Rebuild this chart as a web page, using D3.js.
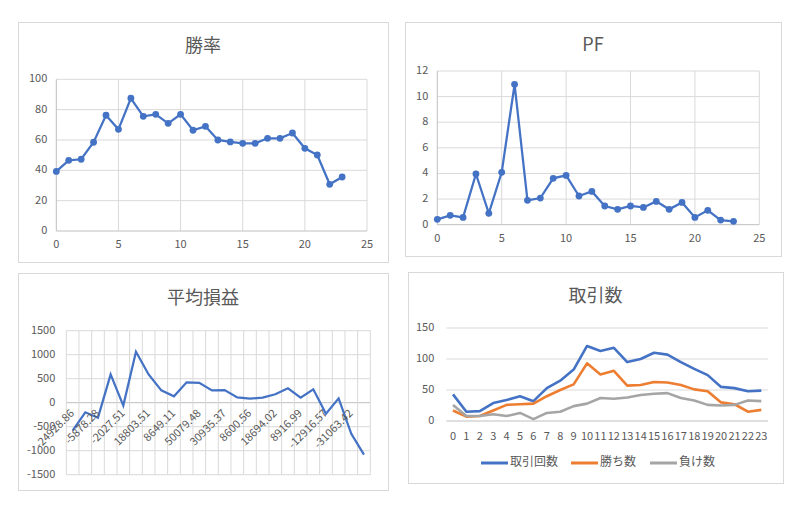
<!DOCTYPE html>
<html>
<head>
<meta charset="utf-8">
<script src="https://cdn.jsdelivr.net/npm/d3@7"></script>
<style>
  body { margin: 0; background: #fff; }
  text { font-family: "Noto Sans CJK JP", "Noto Sans", sans-serif; fill: #595959; }
</style>
</head>
<body>
<div id="chart"></div>
<script>
// 時間帯 0〜23
const hours = d3.range(24);

// 勝率 (%)
const winRate = [39.3, 46.6, 47.3, 58.5, 76.3, 67, 87.5, 75.6, 76.9, 71, 76.9, 66.4,
  69, 60, 58.7, 57.8, 57.8, 61.1, 61.1, 64.6, 54.5, 50.1, 30.8, 35.6];

// PF
const pf = [0.42, 0.73, 0.57, 3.96, 0.89, 4.09, 10.96, 1.9, 2.08, 3.62, 3.85, 2.24,
  2.6, 1.46, 1.2, 1.46, 1.35, 1.82, 1.2, 1.74, 0.57, 1.12, 0.36, 0.26];

// 平均損益
const avgPL = [-580, -200, -312, 590, -60, 1062, 588, 257, 133, 424, 414, 257,
  262, 111, 86, 104, 175, 299, 106, 278, -230, 90, -647, -1083];
// 合計損益 (軸ラベル、1つおきに表示)
const totalPLLabels = ['-24928.86', '', '-5878.28', '', '-2027.51', '', '18803.51', '',
  '8649.11', '', '50079.48', '', '30935.37', '', '8600.56', '', '18694.02', '',
  '8916.99', '', '-12916.57', '', '-31063.42', ''];

// 取引数
const trades = [43, 15, 16, 29, 34, 40, 32, 53, 65, 83, 121, 113, 118, 95, 100, 110,
  107, 95, 84, 74, 55, 53, 48, 49];
const wins = [17, 7, 8, 17, 26, 27, 28, 40, 50, 59, 93, 75, 81, 57, 58, 63, 62, 58,
  51, 48, 30, 27, 15, 18];
const losses = [26, 8, 8, 11, 8, 13, 3, 13, 15, 24, 28, 37, 36, 38, 42, 44, 45, 37,
  33, 26, 25, 26, 33, 32];
const seriesNames = ['取引回数', '勝ち数', '負け数'];
const seriesColors = ['#4472c4', '#ed7d31', '#a5a5a5'];

const GRID = '#d9d9d9';
const AXIS = '#bfbfbf';

const svg = d3.select('#chart').append('svg')
  .attr('width', 797).attr('height', 521);

function panel(x0, y0, x1, y1, title, titleY) {
  svg.append('rect')
    .attr('x', x0 + 0.5).attr('y', y0 + 0.5)
    .attr('width', x1 - x0).attr('height', y1 - y0)
    .attr('fill', '#fff').attr('stroke', GRID);
  svg.append('text')
    .attr('x', (x0 + x1) / 2).attr('y', titleY)
    .attr('text-anchor', 'middle').attr('dominant-baseline', 'middle')
    .style('font-size', '18px')
    .text(title);
}

// 散布図タイプ (勝率, PF)
function scatterChart(opts) {
  const x = d3.scaleLinear().domain([0, 25]).range([opts.left, opts.right]);
  const y = d3.scaleLinear().domain([0, opts.ymax]).range([opts.bottom, opts.top]);
  const g = svg.append('g');

  g.selectAll('.vg').data(d3.range(5, 26, 5)).enter().append('line')
    .attr('x1', d => x(d)).attr('x2', d => x(d))
    .attr('y1', opts.top).attr('y2', opts.bottom)
    .attr('stroke', GRID);
  g.selectAll('.hg').data(d3.range(opts.ystep, opts.ymax + 0.001, opts.ystep)).enter().append('line')
    .attr('x1', opts.left).attr('x2', opts.right)
    .attr('y1', d => y(d)).attr('y2', d => y(d))
    .attr('stroke', GRID);
  g.append('line').attr('x1', opts.left).attr('x2', opts.right)
    .attr('y1', y(0)).attr('y2', y(0)).attr('stroke', AXIS);
  g.append('line').attr('x1', opts.left).attr('x2', opts.left)
    .attr('y1', opts.top).attr('y2', opts.bottom).attr('stroke', AXIS);

  g.selectAll('.yl').data(d3.range(0, opts.ymax + 0.001, opts.ystep)).enter().append('text')
    .attr('x', opts.left - 9).attr('y', d => y(d))
    .attr('text-anchor', 'end').attr('dominant-baseline', 'middle')
    .style('font-size', '11px').text(d => d);
  g.selectAll('.xl').data(d3.range(0, 26, 5)).enter().append('text')
    .attr('x', d => x(d)).attr('y', opts.bottom + 14)
    .attr('text-anchor', 'middle').attr('dominant-baseline', 'middle')
    .style('font-size', '11px').text(d => d);

  const line = d3.line().x((d, i) => x(hours[i])).y(d => y(d));
  g.append('path').datum(opts.values)
    .attr('d', line).attr('fill', 'none')
    .attr('stroke', '#4472c4').attr('stroke-width', 2.25);
  g.selectAll('.pt').data(opts.values).enter().append('circle')
    .attr('cx', (d, i) => x(hours[i])).attr('cy', d => y(d))
    .attr('r', 3.4).attr('fill', '#4472c4');
}

panel(18, 22, 388, 262, '勝率', 47);
scatterChart({ left: 56.3, right: 367, top: 79.3, bottom: 231, ymax: 100, ystep: 20, values: winRate });

panel(405, 22, 781, 256, 'PF', 46);
scatterChart({ left: 437.3, right: 759.3, top: 71, bottom: 224.7, ymax: 12, ystep: 2, values: pf });

// 平均損益
panel(18, 273, 388, 490, '平均損益', 299);
(function () {
  const left = 66.3, right = 370.3, top = 330.7, bottom = 474.7;
  const x = d3.scaleBand().domain(hours).range([left, right]);
  const y = d3.scaleLinear().domain([-1500, 1500]).range([bottom, top]);
  const g = svg.append('g');

  g.selectAll('.hg').data(d3.range(-1500, 1501, 500)).enter().append('line')
    .attr('x1', left).attr('x2', right)
    .attr('y1', d => y(d)).attr('y2', d => y(d))
    .attr('stroke', d => d === 0 ? AXIS : GRID);
  g.selectAll('.vg').data(hours.concat([24])).enter().append('line')
    .attr('x1', d => d < 24 ? x(d) : right).attr('x2', d => d < 24 ? x(d) : right)
    .attr('y1', top).attr('y2', bottom)
    .attr('stroke', GRID);

  g.selectAll('.yl').data(d3.range(-1500, 1501, 500)).enter().append('text')
    .attr('x', left - 11).attr('y', d => y(d))
    .attr('text-anchor', 'end').attr('dominant-baseline', 'middle')
    .style('font-size', '11px').text(d => d);

  const line = d3.line().x((d, i) => x(hours[i]) + x.bandwidth() / 2).y(d => y(d));
  g.append('path').datum(avgPL)
    .attr('d', line).attr('fill', 'none')
    .attr('stroke', '#4472c4').attr('stroke-width', 2.25);

  g.selectAll('.xl').data(totalPLLabels).enter().append('text')
    .attr('transform', (d, i) => `translate(${x(hours[i]) + x.bandwidth() / 2 - 0.5},${y(0) + 8.5}) rotate(-45)`)
    .attr('text-anchor', 'end').attr('dy', '0.35em')
    .style('font-size', '11px').text(d => d);
})();

// 取引数
panel(408, 272, 783, 483, '取引数', 297);
(function () {
  const left = 446.3, right = 768, top = 328, bottom = 421;
  const x = d3.scaleBand().domain(hours).range([left, right]);
  const y = d3.scaleLinear().domain([0, 150]).range([bottom, top]);
  const g = svg.append('g');

  g.selectAll('.hg').data(d3.range(50, 151, 50)).enter().append('line')
    .attr('x1', left).attr('x2', right)
    .attr('y1', d => y(d)).attr('y2', d => y(d))
    .attr('stroke', GRID);
  g.append('line').attr('x1', left).attr('x2', right)
    .attr('y1', y(0)).attr('y2', y(0)).attr('stroke', AXIS);

  g.selectAll('.yl').data(d3.range(0, 151, 50)).enter().append('text')
    .attr('x', left - 12).attr('y', d => y(d))
    .attr('text-anchor', 'end').attr('dominant-baseline', 'middle')
    .style('font-size', '11px').text(d => d);
  g.selectAll('.xl').data(hours).enter().append('text')
    .attr('x', d => x(d) + x.bandwidth() / 2).attr('y', bottom + 16)
    .attr('text-anchor', 'middle').attr('dominant-baseline', 'middle')
    .style('font-size', '11px').text(d => d);

  const line = d3.line().x((d, i) => x(hours[i]) + x.bandwidth() / 2).y(d => y(d));
  [trades, wins, losses].forEach((vals, k) => {
    g.append('path').datum(vals)
      .attr('d', line).attr('fill', 'none')
      .attr('stroke', seriesColors[k]).attr('stroke-width', 2.6)
      .attr('stroke-linejoin', 'round');
  });

  // 凡例
  const legendX = [481, 571, 650];
  seriesNames.forEach((name, k) => {
    g.append('line')
      .attr('x1', legendX[k]).attr('x2', legendX[k] + 27)
      .attr('y1', 463).attr('y2', 463)
      .attr('stroke', seriesColors[k]).attr('stroke-width', 3);
    g.append('text')
      .attr('x', legendX[k] + 29).attr('y', 463)
      .attr('dominant-baseline', 'middle')
      .style('font-size', '12px').text(name);
  });
})();
</script>
</body>
</html>
